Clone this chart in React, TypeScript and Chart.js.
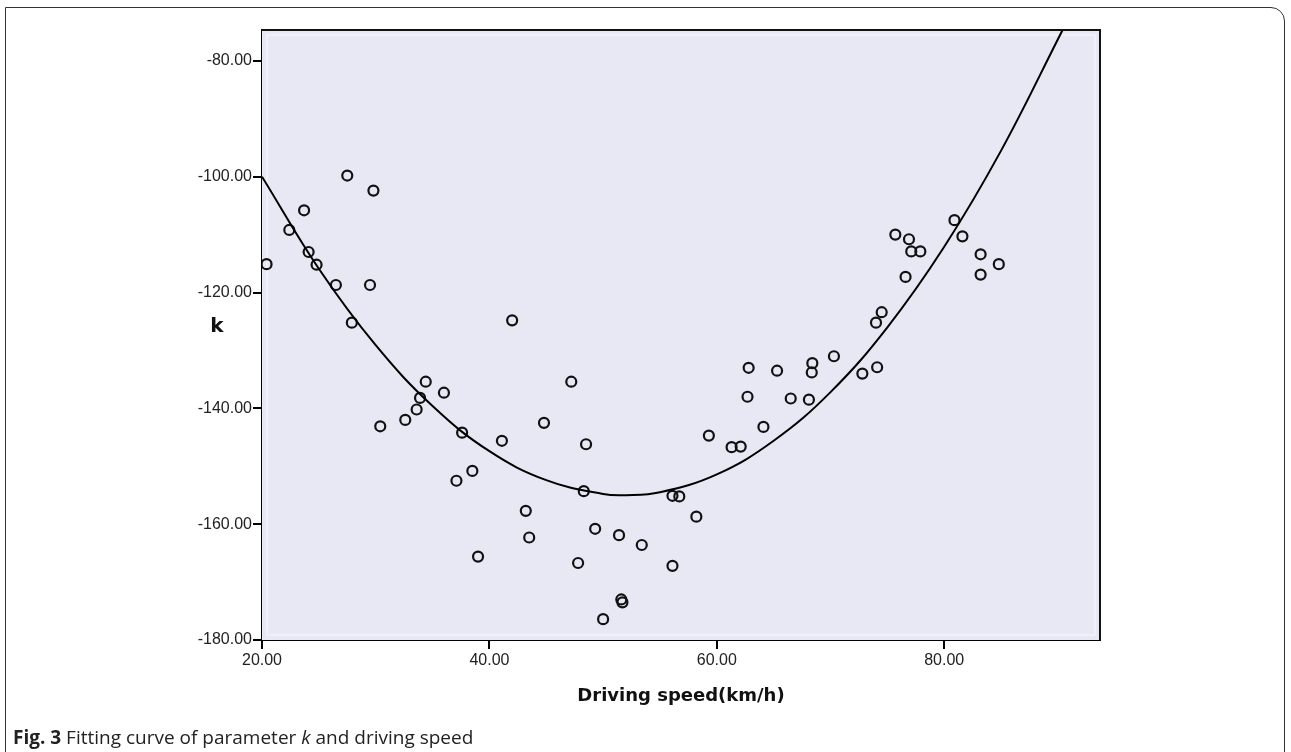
import React, { useEffect, useRef } from "react";
import { Chart, registerables } from "chart.js";

Chart.register(...registerables);

// Observed data (driving speed in km/h, parameter k)
const speeds = [
  20.4, 22.4, 23.7, 24.1, 24.8, 26.5, 27.5, 27.9, 29.5, 29.8,
  30.4, 32.6, 33.6, 33.9, 34.4, 36.0, 37.1, 37.6, 38.5, 39.0,
  41.1, 42.0, 43.2, 43.5, 44.8, 47.2, 47.8, 48.3, 48.5, 49.3,
  50.0, 51.4, 51.6, 51.7, 53.4, 56.1, 56.7, 56.1, 58.2, 59.3,
  61.3, 62.1, 62.8, 62.7, 64.1, 65.3, 66.5, 68.1, 68.4, 68.35,
  70.3, 72.8, 74.1, 74.0, 74.5, 75.7, 76.9, 77.1, 77.9, 76.6,
  80.9, 81.6, 83.2, 83.2, 84.8,
];
const kValues = [
  -115.1, -109.2, -105.8, -113.0, -115.2, -118.7, -99.8, -125.2, -118.7, -102.4,
  -143.1, -142.0, -140.2, -138.2, -135.4, -137.3, -152.5, -144.2, -150.8, -165.6,
  -145.6, -124.8, -157.7, -162.3, -142.5, -135.4, -166.7, -154.3, -146.2, -160.8,
  -176.4, -161.9, -173.0, -173.5, -163.6, -155.1, -155.2, -167.2, -158.7, -144.7,
  -146.7, -146.6, -133.0, -138.0, -143.2, -133.5, -138.3, -138.5, -132.2, -133.8,
  -131.0, -134.0, -132.9, -125.2, -123.4, -110.0, -110.8, -112.9, -112.9, -117.3,
  -107.5, -110.3, -113.4, -116.9, -115.1,
];

// Fitted curve
const fitSpeeds = [20, 25, 30, 35, 40, 45, 50, 52, 55, 60, 65, 70, 75, 80, 85, 90.4];
const fitK = [-100.0, -115.9, -129.1, -139.6, -147.4, -152.4, -154.8, -155.0, -154.5, -151.4, -145.6, -137.2, -126.0, -112.1, -95.5, -74.7];

const xTicks = [20, 40, 60, 80];
const yTicks = [-80, -100, -120, -140, -160, -180];
const xTitle = "Driving speed(km/h)";
const yTitle = "k";

const W = 1291;
const H = 752;

export default function App() {
  const ref = useRef<HTMLCanvasElement | null>(null);

  useEffect(() => {
    if (!ref.current) return;
    const decor = {
      id: "decor",
      beforeDatasetsDraw(chart: any) {
        const { ctx, chartArea } = chart;
        const { left, top, right, bottom } = chartArea;
        ctx.save();
        ctx.fillStyle = "#E8E8F5";
        ctx.fillRect(left, top, right - left, bottom - top);
        ctx.strokeStyle = "#F2F2FA";
        ctx.lineWidth = 1.5;
        ctx.strokeRect(left + 5, top + 5, right - left - 10, bottom - top - 10);
        ctx.restore();
      },
      afterDraw(chart: any) {
        const { ctx, chartArea } = chart;
        const { left, top, right, bottom } = chartArea;
        ctx.save();
        ctx.strokeStyle = "#111";
        ctx.lineWidth = 2;
        ctx.beginPath();
        ctx.moveTo(left, top);
        ctx.lineTo(right, top);
        ctx.lineTo(right, bottom);
        ctx.stroke();
        ctx.fillStyle = "#111";
        ctx.textAlign = "center";
        ctx.textBaseline = "middle";
        ctx.font = 'bold 20px "DejaVu Sans"';
        ctx.fillText(yTitle, left - 45, 327);
        ctx.font = 'bold 18px "DejaVu Sans"';
        ctx.fillText(xTitle, (left + right) / 2, 696);
        ctx.restore();
      },
    };

    const chart = new Chart(ref.current, {
      type: "scatter",
      data: {
        datasets: [
          {
            type: "line",
            data: fitSpeeds.map((x, i) => ({ x, y: fitK[i] })),
            borderColor: "#000",
            borderWidth: 2,
            pointRadius: 0,
            tension: 0.4,
            fill: false,
          } as any,
          {
            type: "scatter",
            data: speeds.map((x, i) => ({ x, y: kValues[i] })),
            pointRadius: 5,
            pointBorderWidth: 2.2,
            pointBorderColor: "#111",
            pointBackgroundColor: "rgba(0,0,0,0)",
          },
        ],
      },
      options: {
        responsive: false,
        animation: false,
        layout: { padding: { left: 142, top: 30, right: 191, bottom: 42 } },
        plugins: { legend: { display: false }, tooltip: { enabled: false } },
        scales: {
          x: {
            type: "linear",
            min: 20,
            max: 93.7,
            afterBuildTicks: (s: any) => {
              s.ticks = xTicks.map((v) => ({ value: v }));
            },
            afterFit: (s: any) => {
              s.height = 70;
            },
            ticks: {
              callback: (v: any) => Number(v).toFixed(2),
              font: { family: '"Liberation Sans"', size: 16 },
              color: "#222",
              padding: 2,
              maxRotation: 0,
            },
            grid: {
              drawOnChartArea: false,
              drawTicks: true,
              tickLength: 9,
              color: "#000",
              lineWidth: 2,
            },
            border: { display: true, color: "#000", width: 2 },
          },
          y: {
            type: "linear",
            min: -180,
            max: -74.67,
            afterBuildTicks: (s: any) => {
              s.ticks = yTicks.map((v) => ({ value: v }));
            },
            afterFit: (s: any) => {
              s.width = 120;
            },
            ticks: {
              callback: (v: any) => Number(v).toFixed(2),
              font: { family: '"Liberation Sans"', size: 16 },
              color: "#222",
              padding: 1,
            },
            grid: {
              drawOnChartArea: false,
              drawTicks: true,
              tickLength: 9,
              color: "#000",
              lineWidth: 2,
            },
            border: { display: true, color: "#000", width: 2 },
          },
        },
      },
      plugins: [decor],
    });
    return () => chart.destroy();
  }, []);

  return (
    <div
      style={{
        position: "fixed",
        left: 0,
        top: 0,
        width: W,
        height: H,
        overflow: "hidden",
        background: "#fff",
      }}
    >
      <div
        style={{
          position: "absolute",
          left: 5,
          top: 7,
          width: 1280,
          height: 760,
          border: "1.5px solid #333",
          borderTopRightRadius: 14,
          borderBottomLeftRadius: 14,
          boxSizing: "border-box",
        }}
      />
      <canvas ref={ref} width={W} height={H} style={{ position: "absolute", left: 0, top: 0 }} />
      <div
        style={{
          position: "absolute",
          left: 13,
          top: 726,
          fontFamily: '"Open Sans", sans-serif',
          fontSize: 19,
          lineHeight: "22px",
          color: "#222",
          whiteSpace: "nowrap",
        }}
      >
        <b>Fig. 3</b> Fitting curve of parameter <i>k</i> and driving speed
      </div>
    </div>
  );
}
